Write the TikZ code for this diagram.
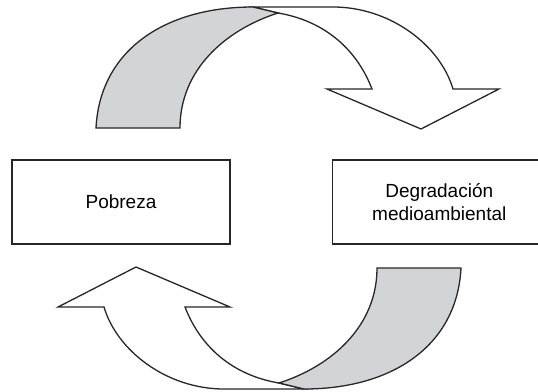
\documentclass[tikz,border=0pt]{standalone}
\usepackage{fontspec}
\setmainfont{Liberation Sans}
\usetikzlibrary{positioning}
\definecolor{linecol}{RGB}{40,38,40}
\definecolor{backgray}{RGB}{211,212,214}

\begin{document}
\begin{tikzpicture}[
        x=1pt, y=-1pt,
        node distance=101pt,
        box/.style={rectangle, draw=linecol, line width=1.3pt, minimum width=218pt, minimum height=84pt, align=center, font=\fontsize{19}{23}\selectfont},
        band/.style={draw=linecol, line width=1.3pt, line join=miter},
        front/.style={band, fill=white},
        back/.style={band, fill=backgray},
    ]
    \useasboundingbox (0,0) rectangle (538,391);

    \node[box] (pobreza) at (121,202) {Pobreza};
    \node[box, right=of pobreza, minimum width=214pt] (degradacion) {Degradación\\ medioambiental};

    % twisted band arrows, the lower one is the upper one turned round
    \foreach \turn in {0,180} {
        \begin{scope}[rotate around={\turn:(278.5,198)}]
            \draw[front] (253,7) -- (333,7) .. controls (390,7) and (440,45) .. (453,89)
                -- (499,89) -- (421,129) -- (327,89) -- (372,89)
                .. controls (355,45) and (320,20) .. (278,13) -- cycle;
            \draw[back] (96,128) .. controls (100,50) and (165,7) .. (253,7) -- (278,13)
                .. controls (225,30) and (180,70) .. (180,128) -- cycle;
        \end{scope}
    }
\end{tikzpicture}
\end{document}
